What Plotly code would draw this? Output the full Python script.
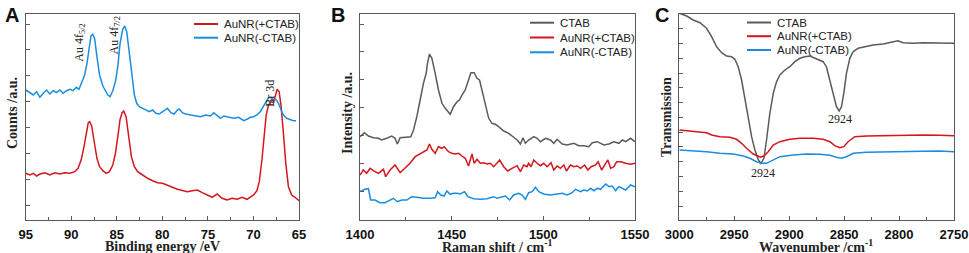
import plotly.graph_objects as go

# ---------------- Panel A (XPS) ----------------
a_ev_blue = [95.0, 94.53, 94.16, 93.8, 93.44, 93.07, 92.71, 92.35, 91.98, 91.62, 91.25, 90.89, 90.53, 90.16, 89.8,
             89.44, 89.15, 88.89, 88.53, 88.27, 88.05, 87.84, 87.65, 87.44, 87.18, 86.89, 86.53, 86.24, 85.98, 85.73,
             85.44, 85.15, 84.89, 84.64, 84.35, 84.13, 83.91, 83.62, 83.33, 83.07, 82.82, 82.53, 82.16, 81.8, 81.44,
             81.07, 80.71, 80.35, 79.98, 79.62, 79.44, 79.07, 78.71, 78.35, 78.16, 77.8, 77.44, 76.89, 76.35, 75.8,
             75.25, 74.71, 74.35, 73.98, 73.62, 73.25, 72.71, 72.16, 71.62, 71.07, 70.71, 70.35, 69.98, 69.62, 69.25,
             68.89, 68.6, 68.35, 68.09, 67.8, 67.55, 67.25, 66.96, 66.71, 66.35, 65.98, 65.62, 65.33]
a_cnt_blue = [130, 126.7, 125, 128.3, 122.7, 126.7, 130, 126, 129.3, 127.3, 130, 126.7, 129.3, 130.7, 129.3,
              132.7, 130.7, 136.7, 145, 156.7, 173.3, 184, 185.7, 181.7, 163.3, 145, 134, 129.3, 125, 123.3,
              129.3, 138.3, 153.3, 176.7, 190.7, 194, 188.3, 166.7, 141.7, 125, 116.7, 113.3, 111.7, 110, 108.3,
              110, 106.7, 106, 108.3, 110.7, 111.7, 107.3, 106, 110, 111, 107.3, 106, 105, 104, 103.3,
              105, 104, 107.3, 104, 101.7, 104, 102.7, 101.7, 102.7, 99.3, 100.7, 102.7, 103.3, 105, 108.3,
              114, 118.3, 122.3, 122.7, 120, 120.7, 116.7, 110, 105, 101.7, 100.7, 99.3, 99.3]

a_ev_red = [95.0, 94.53, 94.16, 93.8, 93.44, 92.89, 92.35, 91.8, 91.25, 90.71, 90.16, 89.62, 89.25, 88.89, 88.6,
            88.35, 88.13, 87.98, 87.76, 87.51, 87.18, 86.89, 86.53, 86.16, 85.8, 85.44, 85.15, 84.89, 84.64, 84.42,
            84.24, 83.98, 83.69, 83.4, 83.07, 82.71, 82.16, 81.62, 81.07, 80.53, 79.98, 79.44, 78.89, 78.35, 77.8,
            77.25, 76.71, 76.16, 75.62, 75.07, 74.53, 73.98, 73.44, 72.89, 72.35, 71.8, 71.25, 70.71, 70.35, 69.98,
            69.62, 69.36, 69.07, 68.82, 68.6, 68.35, 68.05, 67.8, 67.62, 67.4, 67.18, 66.96, 66.71, 66.45, 66.16,
            65.8, 65.44, 65.15, 65.0]
a_cnt_red = [46.7, 45, 46.7, 44, 46, 47.3, 45, 47.3, 46, 47.3, 46.7, 48.3, 51.7, 60.7, 73.3,
             88.3, 97.3, 98.3, 94, 80, 61.7, 53.3, 49.3, 46.7, 48.3, 55, 66.7, 83.3, 100.7, 107.3,
             109, 103.3, 83.3, 63.3, 53.3, 48.3, 45, 41.7, 39.3, 37.3, 36.7, 35, 32.7, 30.7, 29.3,
             28.3, 29.3, 30, 27.3, 25, 22.7, 26, 21.7, 20, 21.7, 20.7, 22.7, 20.7, 22.7, 25,
             29.3, 38.3, 60, 86.7, 105, 115, 118.3, 117.3, 123.3, 130.7, 128.3, 113.3, 86.7, 56.7, 33.3,
             25, 22.7, 20, 19.3]

# ---------------- Panel B (Raman) ----------------
b_shift_ctab = [1400, 1402.4, 1404.6, 1407.3, 1410, 1411.8, 1414.6, 1417.3, 1419.1, 1420.4, 1421.9, 1424.6, 1427.7,
                1429.2, 1431, 1432.8, 1434.6, 1436.1, 1436.8, 1437.9, 1439.2, 1441, 1442.8, 1444.7, 1446.5, 1449.2,
                1451, 1452.9, 1454.3, 1455.6, 1457.4, 1459.2, 1460.5, 1462.3, 1463.8, 1465.2, 1466.5, 1468.3, 1470.2,
                1472, 1473.8, 1475.6, 1478.4, 1481.1, 1483.8, 1485.7, 1487.5, 1488.9, 1490.2, 1492, 1494.8, 1496.6,
                1498.4, 1501.2, 1503.9, 1505.7, 1507.5, 1510.3, 1513, 1516.6, 1519.4, 1522.1, 1524.8, 1526.7, 1529.4,
                1531.2, 1533, 1535.8, 1538.5, 1541.2, 1543.1, 1544.9, 1547.6, 1550]
b_int_ctab = [83.3, 87.3, 84, 82.3, 81.7, 80, 81.7, 84, 81.7, 76, 82.3, 82.7, 83.3,
              90, 103.3, 120, 136.7, 146.7, 156.7, 166, 161.7, 146.7, 130, 116.7, 111.7, 105.7,
              113.3, 118.3, 120, 125, 130, 140, 147.3, 147.3, 141.7, 140, 130, 116.7, 101.7,
              96.7, 95.7, 93.3, 89, 86.7, 83.3, 80, 76, 82.3, 76.7, 80, 83.3, 81.7,
              78.3, 81.7, 80, 76.7, 80.7, 76, 75, 76.7, 74.3, 74.3, 73.3, 77.3, 78.3,
              76.7, 75, 76, 78.3, 76.7, 80, 78.3, 81.7, 78.3]

b_shift_red = [1400, 1401.8, 1403.6, 1405.5, 1407.3, 1410, 1412.8, 1414, 1416.4, 1419.1, 1421.9, 1424.6, 1427.3,
               1430.1, 1431.9, 1434.6, 1436.5, 1437.9, 1439.2, 1441, 1442.8, 1444.7, 1445.9, 1448.3, 1450.1, 1451.9,
               1453.8, 1455.6, 1457.4, 1459.2, 1461.1, 1462.3, 1463.8, 1465.6, 1467.4, 1469.3, 1471.1, 1472.9, 1474.7,
               1476.2, 1478.4, 1480.6, 1482.9, 1485.7, 1487.5, 1489.3, 1491.1, 1492, 1493.3, 1494.8, 1496.6, 1498.4,
               1500.2, 1502.1, 1504.2, 1505.7, 1507.5, 1509.3, 1511.2, 1512.6, 1514.8, 1516.6, 1518.5, 1520.3, 1522.5,
               1524.3, 1526.1, 1528.5, 1529.9, 1531.8, 1534, 1535.2, 1536.7, 1538.5, 1540, 1542.2, 1544.9, 1547.6, 1550]
b_int_red = [45, 50, 46.7, 51.7, 49.3, 46.7, 50.7, 43.3, 50, 55, 47.3, 51.7, 56.7,
             63.3, 65, 68.3, 70, 76, 70.7, 66.7, 73.3, 71.7, 73.3, 68.3, 66.7, 66,
             66.7, 64, 61.7, 54, 66, 56.7, 60.7, 56.7, 57.3, 56, 56.7, 53.3, 56.7,
             60, 53.3, 49, 51.7, 54.3, 48.3, 55, 53.3, 56.7, 53.3, 60, 56.7, 54.3,
             56.7, 53.3, 57.3, 50, 54, 51.7, 55, 49, 55, 53.3, 54, 51.7, 55,
             50, 53.3, 55, 58.3, 50, 56.7, 60, 51.7, 53.3, 58.3, 58.3, 56.7, 55.7, 56.7]

b_shift_blue = [1400, 1402.7, 1404.6, 1405.8, 1408.2, 1410.9, 1413.7, 1416.4, 1418.2, 1420.4, 1422.8, 1425.5, 1428.2,
                1431, 1434.6, 1438.3, 1441, 1442.3, 1444.1, 1445.9, 1447.4, 1449.2, 1451, 1452.9, 1454.7, 1457,
                1458.9, 1462, 1465.6, 1469.3, 1472.9, 1474.7, 1477.5, 1479.3, 1481.6, 1483.8, 1486.6, 1488.4, 1490.2,
                1492, 1493.9, 1495.7, 1497.5, 1500.2, 1503.9, 1507.5, 1510.3, 1513, 1515.7, 1517.6, 1520.3, 1522.1,
                1523.9, 1525.8, 1527.6, 1529.4, 1531.2, 1534, 1535.8, 1537.6, 1539.4, 1541.2, 1543.1, 1544.9, 1547.6, 1550]
b_int_blue = [28.3, 30.7, 31.3, 20, 20, 17.3, 17.3, 20, 21.7, 18.3, 20, 20, 23.3,
              22.7, 21.7, 21.7, 22.3, 28.3, 25, 24, 29, 25.7, 26.7, 26.7, 26, 28.3,
              23.3, 21.3, 20.7, 21.3, 23.3, 21.7, 23.3, 24, 20, 25, 26.7, 25, 20.7,
              27.3, 28.3, 32.7, 28.3, 26, 25, 25.7, 26.7, 25, 27.3, 30.7, 28.3, 30,
              29, 31.7, 29.3, 31.7, 30.7, 36, 33.3, 34, 29.3, 33.3, 31.7, 30, 35, 33.3]

# ---------------- Panel C (FTIR) ----------------
c_wn_ctab = [3000, 2993.3, 2987.3, 2981.2, 2975.2, 2970.6, 2966.1, 2961.5, 2957, 2952.4, 2949.4, 2946.4, 2943.3,
             2940.3, 2937.3, 2934.2, 2931.2, 2928.2, 2925.8, 2923, 2920.6, 2917.6, 2914.5, 2911.5, 2908.5, 2903.9,
             2899.4, 2894.8, 2890.3, 2885.8, 2881.2, 2876.7, 2872.1, 2869.1, 2866.1, 2863, 2860, 2857, 2854.5,
             2852.4, 2850.3, 2847.9, 2844.8, 2841.8, 2837.3, 2829.7, 2823.6, 2814.5, 2805.5, 2800.9, 2796.4, 2787.3,
             2778.2, 2769.1, 2760, 2753.9, 2750]
c_tr_ctab = [206.7, 204, 200, 197.3, 191.7, 183.3, 173.3, 167.3, 164, 163.3, 160.7, 153.3, 140,
             120, 100, 83.3, 70, 60.7, 56.7, 61.7, 80, 106.7, 126.7, 138.3, 145, 150,
             153.3, 158.3, 161.7, 163.3, 164, 161.7, 160, 158.3, 153.3, 140, 126.7, 113.3, 109,
             113.3, 126.7, 146.7, 161.7, 168.3, 171.7, 173.3, 175, 176, 177.7, 179.3, 177.3, 176.7,
             177.3, 177.3, 176.7, 177.3, 176.7]

c_wn_red = [3000, 2990.3, 2981.2, 2975.2, 2970.6, 2963, 2953.9, 2947.9, 2943.3, 2938.8, 2932.7, 2928.2, 2926.1,
            2923, 2919.1, 2914.5, 2908.5, 2899.4, 2890.3, 2878.2, 2869.1, 2863, 2858.5, 2853.9, 2850.3, 2846.4,
            2840.3, 2829.7, 2817.6, 2805.5, 2793.3, 2778.2, 2763, 2750]
c_tr_red = [90, 89, 88.3, 87.3, 85, 83.3, 82.7, 80.7, 76.7, 71.7, 66, 63.3, 62.7,
            64, 68.3, 75, 78.3, 80.7, 81.7, 81.7, 80.7, 78.3, 74.3, 72.3, 73.3, 78.3,
            83.3, 84, 84.3, 85, 85, 85, 84.7, 84.3]

c_wn_blue = [3000, 2987.3, 2975.2, 2963, 2950.9, 2941.8, 2935.8, 2929.7, 2925.2, 2920.6, 2916.1, 2908.5, 2896.4,
             2884.2, 2872.1, 2863, 2857, 2852.4, 2847.9, 2841.8, 2829.7, 2817.6, 2805.5, 2793.3, 2778.2, 2763, 2750]
c_tr_blue = [70, 69.3, 68.3, 66.7, 66, 64, 61.7, 58.3, 56.7, 56.7, 59.3, 63.3, 65,
             66, 65.7, 64.7, 62.7, 61.7, 63.3, 66.7, 67.7, 68, 68.7, 69, 68.7, 69, 68.3]

# ---------------- names, colours, labels ----------------
name_ctab = "CTAB"
name_plus = "AuNR(+CTAB)"
name_minus = "AuNR(-CTAB)"
col_ctab = "#5b5b5b"
col_plus = "#d4161e"
col_minus = "#1b8de0"

a_peak_labels = ["Au 4f<sub>5/2</sub>", "Au 4f<sub>7/2</sub>", "Br 3d"]
a_peak_x = [89.07, 85.25, 68.2]
a_peak_y = [177, 184, 127]
c_peak_labels = ["2924", "2924"]
c_peak_x = [2854, 2923.6]
c_peak_y = [100.7, 46.7]

W, H = 969, 253
SANS = "Liberation Sans, Arial, sans-serif"
SERIF = "Liberation Serif, Times New Roman, serif"
FRAME = "#5a5a5a"


def px(x):
    return x / W


def py(y):
    return 1 - y / H


fig = go.Figure()
LW = 1.5
series = [
    (a_ev_red, a_cnt_red, col_plus, name_plus, "x", "y"),
    (a_ev_blue, a_cnt_blue, col_minus, name_minus, "x", "y"),
    (b_shift_ctab, b_int_ctab, col_ctab, name_ctab, "x2", "y2"),
    (b_shift_red, b_int_red, col_plus, name_plus, "x2", "y2"),
    (b_shift_blue, b_int_blue, col_minus, name_minus, "x2", "y2"),
    (c_wn_ctab, c_tr_ctab, col_ctab, name_ctab, "x3", "y3"),
    (c_wn_red, c_tr_red, col_plus, name_plus, "x3", "y3"),
    (c_wn_blue, c_tr_blue, col_minus, name_minus, "x3", "y3"),
]
for xs, ys, cl, nm, xa, ya in series:
    fig.add_trace(go.Scatter(x=xs, y=ys, mode="lines", line=dict(color=cl, width=LW),
                             xaxis=xa, yaxis=ya, name=nm))

ydom = [py(220), py(13.7)]


def xaxis(dom, rng, dtick, minor):
    return dict(domain=dom, range=rng, dtick=dtick, tick0=0, ticks="inside", ticklen=4, tickcolor=FRAME,
                showline=True, linecolor=FRAME, linewidth=1, mirror=True, showgrid=False, zeroline=False,
                automargin=False, ticklabelstandoff=2,
                tickfont=dict(family=SANS, size=13, color="#111", weight="bold"),
                minor=dict(ticks="inside", dtick=minor, ticklen=3, tickcolor=FRAME, showgrid=False))


def yaxis(anchor, tick0, dtick):
    return dict(domain=ydom, range=[0, 206.3], anchor=anchor, tick0=tick0, dtick=dtick, ticks="inside",
                ticklen=4, tickcolor=FRAME, showticklabels=False, showline=True, linecolor=FRAME,
                linewidth=1, mirror=True, showgrid=False, zeroline=False, automargin=False)


fig.update_layout(
    width=W, height=H, margin=dict(l=0, r=0, t=0, b=0, pad=0, autoexpand=False),
    paper_bgcolor="white", plot_bgcolor="white", showlegend=False,
    xaxis=dict(**xaxis([px(25.7), px(299)], [95, 65], 5, 2.5), anchor="y"),
    yaxis=yaxis("x", 15, 25.85),
    xaxis2=dict(**xaxis([px(360), px(635)], [1400, 1550], 50, 25), anchor="y2"),
    yaxis2=yaxis("x2", 28.3, 27.95),
    xaxis3=dict(**xaxis([px(679.3), px(954)], [3000, 2750], 50, 25), anchor="y3"),
    yaxis3=yaxis("x3", 14, 14.77),
)

ann = []
# panel letters
for letter, x in zip(["A", "B", "C"], [3, 329, 653]):
    ann.append(dict(text=letter, x=px(x), y=py(2), xref="paper", yref="paper", xanchor="left", yanchor="top",
                    showarrow=False, font=dict(family=SANS, size=20, color="#111", weight="bold")))
# axis titles
for txt, x in zip(["Binding energy /eV", "Raman shift / cm<sup>-1</sup>", "Wavenumber /cm<sup>-1</sup>"],
                  [162, 497, 816]):
    ann.append(dict(text=txt, x=px(x), y=py(246), xref="paper", yref="paper", xanchor="center",
                    yanchor="middle", showarrow=False,
                    font=dict(family=SERIF, size=14, color="#222", weight="bold")))
for txt, x, yc in zip(["Counts /a.u.", "Intensity /a.u.", "Transmission"], [12, 347, 666], [113, 113, 117]):
    ann.append(dict(text=txt, x=px(x), y=py(yc), xref="paper", yref="paper", xanchor="center",
                    yanchor="middle", textangle=-90, showarrow=False,
                    font=dict(family=SERIF, size=14, color="#222", weight="bold")))
# peak labels
for t, x, y in zip(a_peak_labels, a_peak_x, a_peak_y):
    ann.append(dict(text=t, x=x, y=y, xref="x", yref="y", textangle=-90, showarrow=False,
                    font=dict(family=SERIF, size=12, color="#222")))
for t, x, y in zip(c_peak_labels, c_peak_x, c_peak_y):
    ann.append(dict(text=t, x=x, y=y, xref="x3", yref="y3", showarrow=False,
                    font=dict(family=SERIF, size=12, color="#222")))

# manual legends (compact spacing, as in the reference)
shapes = []
legends = [
    (194, [24, 37.7], [name_plus, name_minus], [col_plus, col_minus]),
    (530, [22.7, 37.5, 52.3], [name_ctab, name_plus, name_minus], [col_ctab, col_plus, col_minus]),
    (747, [22.5, 36.2, 50], [name_ctab, name_plus, name_minus], [col_ctab, col_plus, col_minus]),
]
for x0, ys, names, cols in legends:
    for yy, nm, cl in zip(ys, names, cols):
        shapes.append(dict(type="line", xref="paper", yref="paper", x0=px(x0), x1=px(x0 + 24),
                           y0=py(yy), y1=py(yy), line=dict(color=cl, width=2)))
        ann.append(dict(text=nm, x=px(x0 + 28), y=py(yy), xref="paper", yref="paper", xanchor="left",
                        yanchor="middle", showarrow=False, font=dict(family=SANS, size=11.5, color="#222")))

fig.update_layout(annotations=ann, shapes=shapes)
fig.write_html("out.html", config={"displayModeBar": False},
               post_script="document.body.style.margin='0';")
